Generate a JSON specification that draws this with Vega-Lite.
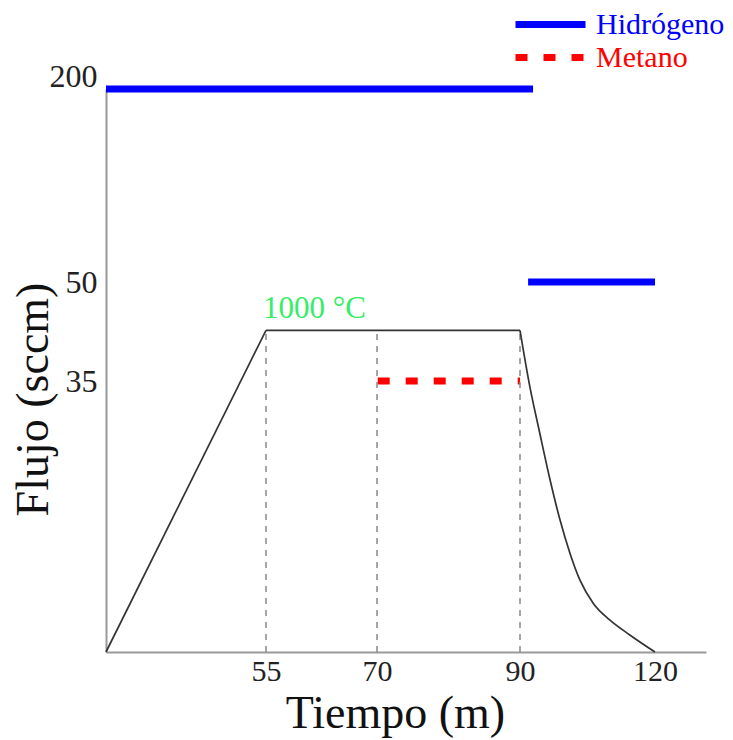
{
  "$schema": "https://vega.github.io/schema/vega-lite/v6.json",
  "width": 600,
  "height": 563,
  "autosize": "none",
  "padding": {"left": 106, "top": 89, "right": 27, "bottom": 88},
  "background": "white",
  "config": {"view": {"stroke": null}, "font": "Liberation Serif"},
  "datasets": {
    "flujo": [
      {"gas": "Hidrógeno", "t0": 0, "t1": 92.9, "flujo": 200},
      {"gas": "Hidrógeno", "t0": 91.8, "t1": 120, "flujo": 50},
      {"gas": "Metano", "t0": 70.1, "t1": 90, "flujo": 35}
    ],
    "temperatura": [
      {"tramo": "a", "t": 0, "temp": 0},
      {"tramo": "a", "t": 55, "temp": 1000},
      {"tramo": "b", "t": 55, "temp": 1000},
      {"tramo": "b", "t": 90, "temp": 1000},
      {"tramo": "c", "t": 90, "temp": 1000},
      {"tramo": "c", "t": 92.2, "temp": 824},
      {"tramo": "c", "t": 94.4, "temp": 680},
      {"tramo": "c", "t": 96.7, "temp": 534},
      {"tramo": "c", "t": 98.9, "temp": 410},
      {"tramo": "c", "t": 101.1, "temp": 307},
      {"tramo": "c", "t": 103.3, "temp": 224},
      {"tramo": "c", "t": 106.3, "temp": 151},
      {"tramo": "c", "t": 110, "temp": 99},
      {"tramo": "c", "t": 114.4, "temp": 53},
      {"tramo": "c", "t": 120, "temp": 0}
    ],
    "marcas": [{"t": 55}, {"t": 70}, {"t": 90}],
    "etiqueta": [{"t": 55, "temp": 1000, "texto": "1000 °C"}]
  },
  "layer": [
    {
      "data": {"name": "flujo"},
      "mark": {"type": "rule", "strokeWidth": 7, "strokeCap": "butt"},
      "encoding": {
        "x": {
          "field": "t0", "type": "quantitative", "title": "Tiempo (m)",
          "scale": {"domain": [0, 55, 70, 90, 120, 131.3], "range": [0, 160, 271, 414, 549, 600], "nice": false, "zero": false},
          "axis": {
            "values": [55, 70, 90, 120], "ticks": false, "grid": false,
            "domainColor": "#999999", "domainWidth": 2,
            "labelFontSize": 30, "labelColor": "#222222", "labelPadding": 4, "labelFont": "Liberation Serif",
            "titleFontSize": 46, "titleFontWeight": "normal", "titleColor": "#111111", "titleFont": "Liberation Serif",
            "titleX": 289, "titleY": 75, "titleBaseline": "alphabetic", "titleAlign": "center"
          }
        },
        "x2": {"field": "t1"},
        "y": {
          "field": "flujo", "type": "quantitative", "title": "Flujo (sccm)",
          "scale": {"domain": [0, 35, 50, 200], "range": [563, 292, 193, 0], "nice": false, "zero": false},
          "axis": {
            "values": [35, 50, 200], "ticks": false, "grid": false,
            "domainColor": "#999999", "domainWidth": 2,
            "labelFontSize": 32, "labelColor": "#222222", "labelPadding": 9, "labelFont": "Liberation Serif",
            "labelBaseline": {"condition": {"test": "datum.value == 200", "value": "bottom"}, "value": "middle"},
            "labelOffset": {"condition": {"test": "datum.value == 200", "value": 4}, "value": 0},
            "titleFontSize": 46, "titleFontWeight": "normal", "titleColor": "#111111", "titleFont": "Liberation Serif",
            "titleX": -59, "titleY": 310, "titleBaseline": "alphabetic", "titleAlign": "center", "titleAngle": -90
          }
        },
        "color": {
          "field": "gas", "type": "nominal",
          "scale": {"domain": ["Hidrógeno", "Metano"], "range": ["#0000ff", "#ff0000"]},
          "legend": {
            "title": null, "orient": "none", "legendX": 406, "legendY": -81, "padding": 0, "rowPadding": 0, "clipHeight": 33,
            "symbolSize": 4900, "symbolStrokeWidth": 7, "labelFontSize": 30, "labelFont": "Liberation Serif",
            "labelOffset": 7, "labelColor": {"expr": "datum.label == 'Metano' ? '#ff0000' : '#0000ff'"}
          }
        },
        "strokeDash": {
          "field": "gas", "type": "nominal",
          "scale": {"domain": ["Hidrógeno", "Metano"], "range": [[1, 0], [12, 16]]},
          "legend": {
            "title": null, "orient": "none", "legendX": 406, "legendY": -81, "padding": 0, "rowPadding": 0, "clipHeight": 33,
            "symbolSize": 4900, "symbolStrokeWidth": 7, "labelFontSize": 30, "labelFont": "Liberation Serif",
            "labelOffset": 7, "labelColor": {"expr": "datum.label == 'Metano' ? '#ff0000' : '#0000ff'"}
          }
        }
      }
    },
    {
      "layer": [
        {
          "data": {"name": "marcas"},
          "mark": {"type": "rule", "color": "#888888", "strokeDash": [6, 6], "strokeWidth": 1.5},
          "encoding": {
            "x": {"field": "t", "type": "quantitative", "title": "Tiempo (m)"},
            "y": {"datum": 0, "type": "quantitative", "scale": {"domain": [0, 1750], "nice": false, "zero": false}, "axis": null},
            "y2": {"datum": 1000}
          }
        },
        {
          "data": {"name": "temperatura"},
          "mark": {"type": "line", "color": "#333333", "strokeWidth": 1.7, "interpolate": "monotone"},
          "encoding": {
            "x": {"field": "t", "type": "quantitative", "title": "Tiempo (m)"},
            "y": {"field": "temp", "type": "quantitative", "axis": null},
            "detail": {"field": "tramo", "type": "nominal"}
          }
        },
        {
          "data": {"name": "etiqueta"},
          "mark": {"type": "text", "align": "left", "baseline": "alphabetic", "dx": -3, "dy": -12, "fontSize": 31, "color": "#33ee66", "font": "Liberation Serif"},
          "encoding": {
            "x": {"field": "t", "type": "quantitative", "title": "Tiempo (m)"},
            "y": {"field": "temp", "type": "quantitative", "axis": null},
            "text": {"field": "texto"}
          }
        }
      ]
    }
  ],
  "resolve": {"scale": {"y": "independent"}, "axis": {"y": "independent"}}
}
